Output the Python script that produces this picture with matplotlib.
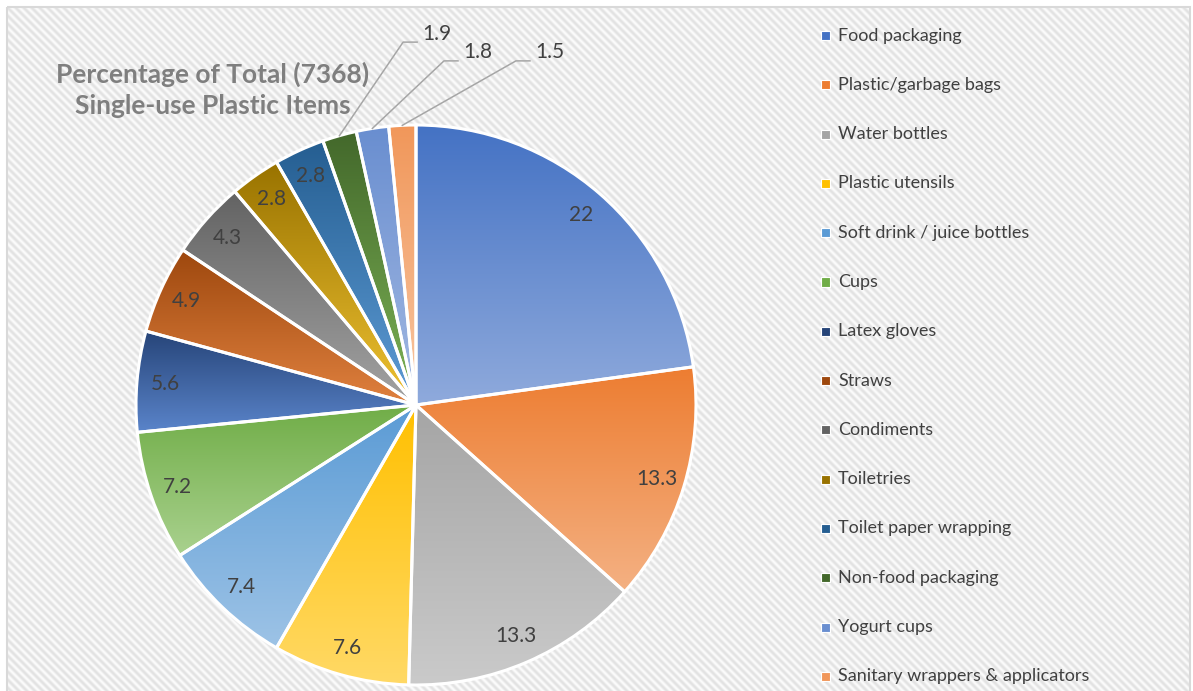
import numpy as np
import matplotlib.pyplot as plt
from matplotlib.patches import Rectangle
from matplotlib.colors import to_rgb

plt.rcParams['font.family'] = ['Lato', 'DejaVu Sans']

# data
items = ['Food packaging', 'Plastic/garbage bags', 'Water bottles', 'Plastic utensils',
         'Soft drink / juice bottles', 'Cups', 'Latex gloves', 'Straws', 'Condiments',
         'Toiletries', 'Toilet paper wrapping', 'Non-food packaging', 'Yogurt cups',
         'Sanitary wrappers & applicators']
percent = [22, 13.3, 13.3, 7.6, 7.4, 7.2, 5.6, 4.9, 4.3, 2.8, 2.8, 1.9, 1.8, 1.5]
title = 'Percentage of Total (7368)\nSingle-use Plastic Items'

# gradient colours per slice (top, bottom)
top_colors = ['#4472C4', '#ED7D31', '#A5A5A5', '#FFC000', '#5B9BD5', '#70AD47', '#264478',
              '#9E480E', '#636363', '#997300', '#255E91', '#43682B', '#698ED0', '#F1975A']
bottom_colors = ['#8FAADC', '#F4B183', '#CACACA', '#FFD966', '#9DC3E6', '#A9D18E', '#5A84CA',
                 '#E0813F', '#A3A3A3', '#EFC232', '#5E9CD6', '#7DB356', '#A3B9E2', '#F8C6A2']

W, H = 1193, 691
fig = plt.figure(figsize=(W / 100, H / 100), dpi=100)

# striped chart area background (diagonal "\" stripes)
bg = fig.add_axes([0, 0, 1, 1], zorder=-5)
yy, xx = np.mgrid[0:H, 0:W]
s = 0.5 + 0.5 * np.cos(2 * np.pi * (xx - yy) / 8.0)
light, dark = np.array(to_rgb('#FBFBFB')), np.array(to_rgb('#E2E2E2'))
img = light * (1 - s[..., None]) + dark * s[..., None]
img[(xx < 7) | (yy < 7) | (xx > 1190)] = 1.0
bg.imshow(img, extent=(0, W, H, 0), interpolation='nearest', aspect='auto')
bg.add_patch(Rectangle((7, 7), 1183, 690, fill=False, edgecolor='#D9D9D9', linewidth=1.5))
bg.set_xlim(0, W)
bg.set_ylim(H, 0)
bg.axis('off')

# pie: centre at (416, 405) px, radius 280 px
ax = fig.add_axes([10 / W, 0, 780 / W, 683 / H])
ax.patch.set_alpha(0)
wedges, _ = ax.pie(percent, startangle=90, counterclock=False, radius=1,
                   wedgeprops=dict(facecolor='none', edgecolor='white', linewidth=2.2))

for i, w in enumerate(wedges):
    w.set_zorder(3)
    bb = w.get_path().get_extents()
    c0 = np.array(to_rgb(top_colors[i]))
    c1 = np.array(to_rgb(bottom_colors[i]))
    t = np.linspace(0, 1, 128)[:, None]
    grad = (c0 * (1 - t) + c1 * t)[:, None, :]
    im = ax.imshow(grad, extent=(bb.x0, bb.x1, bb.y0, bb.y1), origin='upper',
                   aspect='auto', interpolation='bilinear', zorder=2)
    im.set_clip_path(w)

# inside labels
for i, w in enumerate(wedges[:11]):
    ang = np.deg2rad((w.theta1 + w.theta2) / 2)
    ax.text(0.9 * np.cos(ang), 0.9 * np.sin(ang), f'{percent[i]:g}', ha='center', va='center',
            fontsize=15, color='#404040', zorder=5)

# outside labels with leader lines (elbow x, elbow y)
elbows = [(-0.046, 1.296), (0.100, 1.229), (0.357, 1.229)]
for w, (ex, ey), v in zip(wedges[11:], elbows, percent[11:]):
    ang = np.deg2rad((w.theta1 + w.theta2) / 2)
    sx, sy = np.cos(ang), np.sin(ang)
    ax.plot([sx, ex, ex + 0.05], [sy, ey, ey], color='#A6A6A6', lw=1.1, zorder=4,
            clip_on=False)
    ax.text(ex + 0.068, ey + 0.03, f'{v:g}', ha='left', va='center', fontsize=15,
            color='#404040', zorder=5)

ax.set_xlim((10 - 416) / 280, (790 - 416) / 280)
ax.set_ylim((405 - 691) / 280, (405 - 8) / 280)
ax.set_aspect('auto')
ax.axis('off')

fig.text(213 / W, 1 - 90 / H, title, ha='center', va='center', fontsize=19,
         fontweight='bold', color='#7F7F7F', linespacing=1.35)

# legend
lax = fig.add_axes([800 / W, 0, 390 / W, 1])
lax.patch.set_alpha(0)
rows = np.arange(len(items))
lax.scatter(np.full(len(items), 25.5), rows, marker='s', s=42, c=top_colors,
            edgecolors='white', linewidths=0.8)
for r, name in zip(rows, items):
    lax.text(38, r, name, ha='left', va='center', fontsize=13, color='#404040')
lax.set_xlim(0, 390)
lax.set_ylim((691 - 35.5) / 49.3, -35.5 / 49.3)
lax.axis('off')

fig.savefig('out.png', dpi=100)
